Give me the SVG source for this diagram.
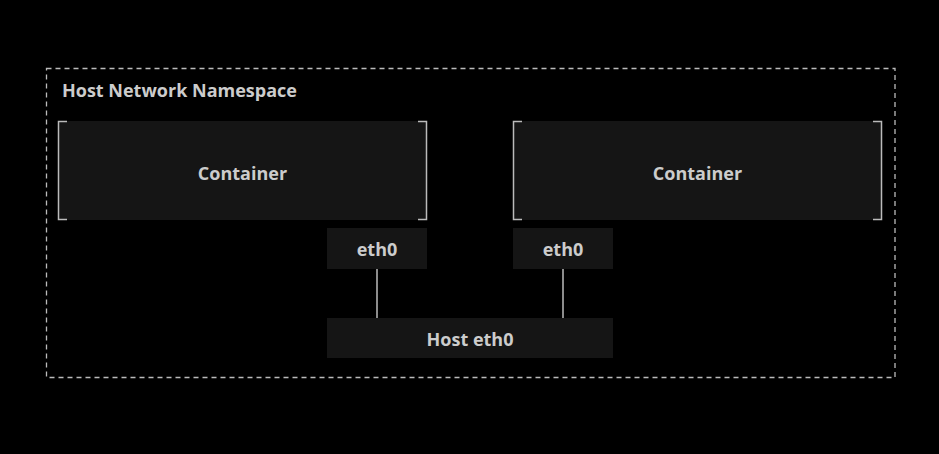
<svg xmlns="http://www.w3.org/2000/svg" width="939" height="454" viewBox="0 0 939 454">
<style>
text{font-family:"Open Sans","Noto Sans","DejaVu Sans",sans-serif;font-weight:700;fill:#cccccc}
.box{fill:#151515}
.br{fill:none;stroke:#bbbbbb;stroke-width:1.5}
.lbl{font-size:18px;text-anchor:middle}
.conn{stroke:#bbbbbb;stroke-width:1.5}
</style>
<rect width="939" height="454" fill="#000"/>
<g id="namespace">
<rect x="46.5" y="68.5" width="848.5" height="309" fill="none" stroke="#bbbbbb" stroke-width="1.3" stroke-dasharray="5,4"/>
<text x="62" y="97" font-size="18">Host Network Namespace</text>
</g>
<g id="container1">
<rect class="box" x="58" y="121" width="369" height="99"/>
<path class="br" d="M67,121.5H58.5V219.5H67M418,121.5H426.5V219.5H418"/>
<text class="lbl" x="242.5" y="179.5">Container</text>
</g>
<g id="container2">
<rect class="box" x="513" y="121" width="369" height="99"/>
<path class="br" d="M522,121.5H513.5V219.5H522M873,121.5H881.5V219.5H873"/>
<text class="lbl" x="697.5" y="179.5">Container</text>
</g>
<g id="eth0-left">
<rect class="box" x="327" y="228" width="100" height="41"/>
<text class="lbl" x="377" y="255.5">eth0</text>
</g>
<g id="eth0-right">
<rect class="box" x="513" y="228" width="100" height="41"/>
<text class="lbl" x="563" y="255.5">eth0</text>
</g>
<g id="host-eth0">
<rect class="box" x="327" y="318" width="286" height="40"/>
<text class="lbl" x="470" y="345.5">Host eth0</text>
</g>
<g id="connectors">
<line class="conn" x1="377" y1="269" x2="377" y2="318"/>
<line class="conn" x1="563" y1="269" x2="563" y2="318"/>
</g>
</svg>
